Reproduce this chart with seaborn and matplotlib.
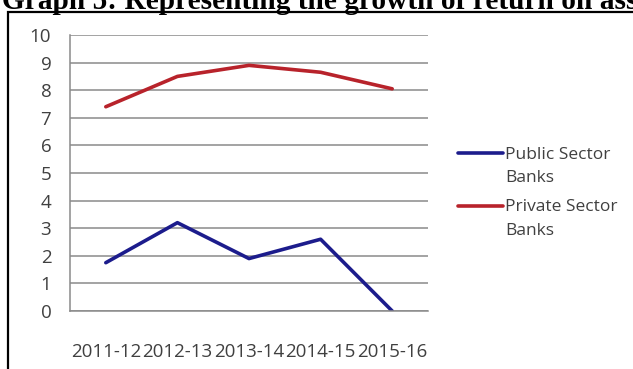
import matplotlib
matplotlib.use("Agg")
import matplotlib.pyplot as plt
from matplotlib.patches import Rectangle
from matplotlib.ticker import FixedLocator
import seaborn as sns
import pandas as pd

# Return on assets (%) by financial year
years = ["2011-12", "2012-13", "2013-14", "2014-15", "2015-16"]
public_roa = [1.75, 3.2, 1.9, 2.6, 0.0]
private_roa = [7.4, 8.5, 8.9, 8.65, 8.05]
series_names = ["Public Sector\nBanks", "Private Sector\nBanks"]
series_colors = ["#1c1c8c", "#b8232b"]
y_ticks = list(range(0, 11))

df = pd.DataFrame({
    "year": years * 2,
    "roa": public_roa + private_roa,
    "sector": [series_names[0]] * len(years) + [series_names[1]] * len(years),
})

sns.set_style("white")
plt.rcParams["font.family"] = ["Open Sans", "DejaVu Sans"]

W, H = 633, 369
fig = plt.figure(figsize=(W / 100, H / 100), dpi=100)
ax = fig.add_axes([70 / W, 1 - 311 / H, 358 / W, 276 / H])

sns.lineplot(data=df, x="year", y="roa", hue="sector", sort=False,
             palette=dict(zip(series_names, series_colors)),
             linewidth=2.6, ax=ax)

ax.set_xlim(-0.5, len(years) - 0.5)
ax.set_ylim(0, 10)
ax.set_xlabel("")
ax.set_ylabel("")

grid_c = "#8a8a8a"
label_c = "#404040"
tick_fs = 13.5
ax.set_yticks(y_ticks)
ax.yaxis.grid(True, color=grid_c, linewidth=1.1)
ax.set_axisbelow(True)
for s in ["top", "right"]:
    ax.spines[s].set_visible(False)
for s in ["left", "bottom"]:
    ax.spines[s].set_color(grid_c)
    ax.spines[s].set_linewidth(1.1)

ax.tick_params(axis="y", length=5, width=1, color=grid_c, pad=8.5,
               labelsize=tick_fs, labelcolor=label_c)
ax.tick_params(axis="x", which="major", length=0, pad=23,
               labelsize=tick_fs, labelcolor=label_c)
ax.xaxis.set_minor_locator(FixedLocator([i - 0.5 for i in range(len(years) + 1)]))
ax.tick_params(axis="x", which="minor", length=5, width=1, color=grid_c)

leg_fs = 12.5
leg = ax.legend(loc="upper left", bbox_to_anchor=(442 / W, 1 - 131 / H),
                bbox_transform=fig.transFigure, frameon=False,
                handlelength=2.6, handletextpad=0.12, labelspacing=0.78,
                fontsize=leg_fs)
for t in leg.get_texts():
    t.set_color(label_c)
    t.set_linespacing(1.6)
# keep each legend line level with the first line of its label
for l in leg.get_lines():
    l.set_linewidth(2.6)
    l.set_ydata([y + 0.75 * leg_fs for y in l.get_ydata()])

# Page frame around the chart
fig.patches.append(Rectangle((8 / W, -0.1), 1.2, 1 - 12 / H + 0.1,
                             transform=fig.transFigure, fill=False,
                             edgecolor="black", linewidth=1.6))

fig.text(2 / W, 1 - 9 / H, "Graph 5: Representing the growth of return on assets",
         family="Liberation Serif", fontweight="bold", fontsize=21.2,
         ha="left", va="baseline", color="black")

fig.savefig("out.png", dpi=100)
